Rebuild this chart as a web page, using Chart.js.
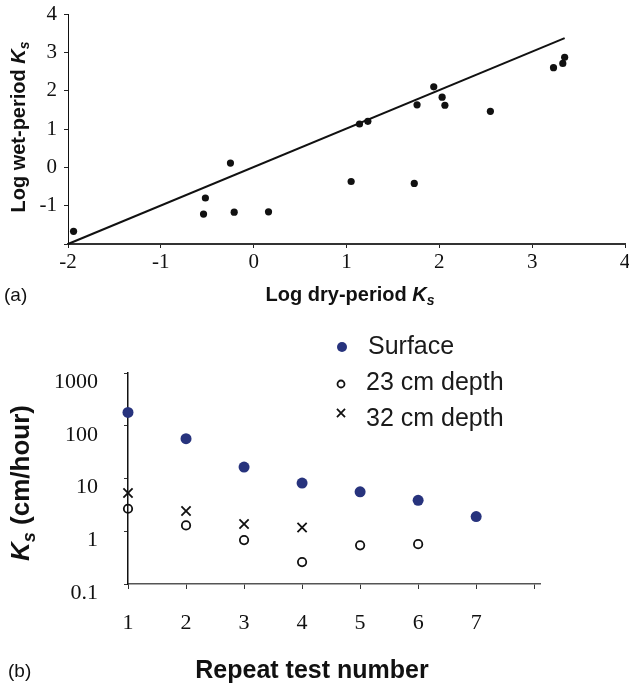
<!DOCTYPE html>
<html>
<head>
<meta charset="utf-8">
<script src="https://cdn.jsdelivr.net/npm/chart.js@4.4.1/dist/chart.umd.min.js"></script>
<style>
body{margin:0;background:#fff;width:629px;height:686px;position:relative;overflow:hidden}
canvas{position:absolute;left:0}
.tag{position:absolute;font:19px "Liberation Sans",Arial,sans-serif;color:#111;line-height:22px}
</style>
</head>
<body>
<canvas id="chartA" width="629" height="315" style="top:0"></canvas>
<canvas id="chartB" width="629" height="371" style="top:315px"></canvas>
<div class="tag" style="left:4px;top:284px">(a)</div>
<div class="tag" style="left:8px;top:660px">(b)</div>
<script>
// (a) log Ks, dry period against wet period
const dryKs = [-1.94, -0.25, -0.52, -0.54, -0.21, 0.16, 1.05, 1.14, 1.23, 1.73, 1.76, 1.94, 2.03, 2.06, 2.55, 3.23, 3.33, 3.35]
const wetKs = [-1.67, 0.11, -0.80, -1.22, -1.17, -1.16, -0.37, 1.13, 1.20, -0.42, 1.63, 2.10, 1.83, 1.62, 1.46, 2.60, 2.71, 2.87]
const fitX = [-2, 3.35]
const fitY = [-2, 3.37]
const ticksA = [-2, -1, 0, 1, 2, 3, 4]
const xLabelsA = ['-2', '-1', '0', '1', '2', '3', '4']
const yLabelsA = ['', '-1', '0', '1', '2', '3', '4']

// (b) Ks by repeat test
const testNumber = [1, 2, 3, 4, 5, 6, 7]
const surface = [179, 57, 16.5, 8.2, 5.6, 3.85, 1.9]
const depth23 = [2.67, 1.29, 0.68, 0.26, 0.54, 0.57, null]
const depth32 = [5.3, 2.42, 1.37, 1.18, null, null, null]
const seriesNames = ['Surface', '23 cm depth', '32 cm depth']
const xTicksB = [1, 2, 3, 4, 5, 6, 7, 8]
const xLabelsB = ['1', '2', '3', '4', '5', '6', '7', '']
const yTicksB = [0.1, 1, 10, 100, 1000]
const yLabelsB = ['0.1', '1', '10', '100', '1000']

const SANS = '"Liberation Sans", Arial, sans-serif'
const SERIF = '"Liberation Serif", "Times New Roman", serif'
const INK = '#111'

function points(xs, ys) {
  return xs.map((x, i) => ({x: x, y: ys[i]})).filter(p => p.y != null)
}

// title with italic K and subscript s
function drawTitle(ctx, t) {
  const fonts = t.parts.map(p => {
    if (p[1] == 'it') return 'italic bold ' + t.size + 'px ' + SANS
    if (p[1] == 'sub') return 'italic bold ' + Math.round(t.size * 0.68) + 'px ' + SANS
    return 'bold ' + t.size + 'px ' + SANS
  })
  let widths = t.parts.map((p, i) => { ctx.font = fonts[i]; return ctx.measureText(p[0]).width })
  let total = widths.reduce((a, b) => a + b, 0)
  ctx.save()
  ctx.translate(t.x, t.y)
  ctx.rotate(t.rot || 0)
  ctx.fillStyle = INK
  ctx.textBaseline = 'alphabetic'
  ctx.textAlign = 'left'
  let x = -total / 2
  const base = t.size * 0.36
  t.parts.forEach((p, i) => {
    ctx.font = fonts[i]
    ctx.fillText(p[0], x, p[1] == 'sub' ? base + t.size * 0.2 : base)
    x += widths[i]
  })
  ctx.restore()
}

function drawMarker(ctx, m, ds) {
  ctx.save()
  ctx.lineWidth = ds.pointBorderWidth
  ctx.strokeStyle = ds.pointBorderColor
  ctx.fillStyle = ds.pointBackgroundColor
  ctx.beginPath()
  if (ds.pointStyle == 'crossRot') {
    const d = m.r * Math.SQRT1_2
    ctx.moveTo(m.x - d, m.y - d); ctx.lineTo(m.x + d, m.y + d)
    ctx.moveTo(m.x - d, m.y + d); ctx.lineTo(m.x + d, m.y - d)
    ctx.stroke()
  } else {
    ctx.arc(m.x, m.y, m.r, 0, Math.PI * 2)
    ctx.fill()
    if (ds.pointBorderWidth > 0) ctx.stroke()
  }
  ctx.restore()
}

function textPlugin(titles, legend) {
  return {
    id: 'textPlugin',
    afterDraw(chart) {
      const ctx = chart.ctx
      titles.forEach(t => drawTitle(ctx, t))
      if (!legend) return
      chart.data.datasets.forEach((ds, i) => {
        const m = legend[i]
        drawMarker(ctx, m, ds)
        ctx.save()
        ctx.font = '25px ' + SANS
        ctx.fillStyle = '#1a1a1a'
        ctx.textBaseline = 'middle'
        ctx.fillText(ds.label, m.tx, m.ty)
        ctx.restore()
      })
    }
  }
}

function fixSize(size, horizontal) {
  return function(s) {
    if (horizontal) s.height = size; else s.width = size
    s.paddingLeft = 0; s.paddingRight = 0; s.paddingTop = 0; s.paddingBottom = 0
  }
}

new Chart(document.getElementById('chartA'), {
  type: 'scatter',
  data: {
    datasets: [{
      data: points(dryKs, wetKs),
      pointStyle: 'circle',
      pointRadius: 3.6,
      pointBackgroundColor: '#111',
      pointBorderColor: '#111',
      pointBorderWidth: 0,
      clip: false
    }, {
      data: points(fitX, fitY),
      showLine: true,
      pointRadius: 0,
      borderColor: '#111',
      borderWidth: 2,
      clip: false
    }]
  },
  options: {
    responsive: false,
    animation: false,
    layout: {padding: {top: 14, right: 2, left: 0, bottom: 0}},
    plugins: {legend: {display: false}, tooltip: {enabled: false}},
    scales: {
      x: {
        type: 'linear', min: -2, max: 4,
        afterBuildTicks: s => { s.ticks = ticksA.map(v => ({value: v})) },
        afterFit: fixSize(71, true),
        ticks: {callback: (v, i) => xLabelsA[i], font: {family: SERIF, size: 21}, color: INK, padding: 2, maxRotation: 0, autoSkip: false},
        grid: {drawOnChartArea: false, tickLength: 4, color: '#222'},
        border: {color: '#333', width: 2}
      },
      y: {
        type: 'linear', min: -2, max: 4,
        afterBuildTicks: s => { s.ticks = ticksA.map(v => ({value: v})) },
        afterFit: fixSize(68, false),
        ticks: {callback: (v, i) => yLabelsA[i], font: {family: SERIF, size: 21}, color: INK, padding: 7, autoSkip: false},
        grid: {drawOnChartArea: false, tickLength: 4, color: '#222'},
        border: {color: '#111', width: 1}
      }
    }
  },
  plugins: [textPlugin([
    {x: 18, y: 127, rot: -Math.PI / 2, size: 20, parts: [['Log wet-period ', 'b'], ['K', 'it'], ['s', 'sub']]},
    {x: 350, y: 294, rot: 0, size: 20, parts: [['Log dry-period ', 'b'], ['K', 'it'], ['s', 'sub']]}
  ], null)]
})

new Chart(document.getElementById('chartB'), {
  type: 'scatter',
  data: {
    datasets: [{
      label: seriesNames[0],
      data: points(testNumber, surface),
      pointStyle: 'circle',
      pointRadius: 5.5,
      pointBackgroundColor: '#27337d',
      pointBorderColor: '#27337d',
      pointBorderWidth: 0,
      clip: false
    }, {
      label: seriesNames[1],
      data: points(testNumber, depth23),
      pointStyle: 'circle',
      pointRadius: 4.2,
      pointBackgroundColor: 'rgba(255,255,255,0)',
      pointBorderColor: '#111',
      pointBorderWidth: 1.8,
      clip: false
    }, {
      label: seriesNames[2],
      data: points(testNumber, depth32),
      pointStyle: 'crossRot',
      pointRadius: 6.5,
      pointBackgroundColor: 'rgba(0,0,0,0)',
      pointBorderColor: '#111',
      pointBorderWidth: 1.8,
      clip: false
    }]
  },
  options: {
    responsive: false,
    animation: false,
    layout: {padding: {top: 58, right: 89, left: 0, bottom: 0}},
    plugins: {legend: {display: false}, tooltip: {enabled: false}},
    scales: {
      x: {
        type: 'linear', min: 1, max: 8.1,
        afterBuildTicks: s => { s.ticks = xTicksB.map(v => ({value: v})) },
        afterFit: fixSize(102, true),
        ticks: {callback: (v, i) => xLabelsB[i], font: {family: SERIF, size: 22}, color: INK, padding: 21, maxRotation: 0, autoSkip: false},
        grid: {drawOnChartArea: false, tickLength: 5, color: '#333'},
        border: {color: '#555', width: 1.5}
      },
      y: {
        type: 'logarithmic', min: 0.1, max: 1000,
        afterBuildTicks: s => { s.ticks = yTicksB.map(v => ({value: v})) },
        afterFit: fixSize(128, false),
        ticks: {callback: (v, i) => yLabelsB[i], font: {family: SERIF, size: 22}, color: INK, padding: 26, labelOffset: 9, autoSkip: false},
        grid: {drawOnChartArea: false, tickLength: 4, color: '#333'},
        border: {color: '#111', width: 1.5}
      }
    }
  },
  plugins: [textPlugin([
    {x: 20, y: 168, rot: -Math.PI / 2, size: 26, parts: [['K', 'it'], ['s', 'sub'], [' (cm/hour)', 'b']]},
    {x: 312, y: 354, rot: 0, size: 25, parts: [['Repeat test number', 'b']]}
  ], [
    {x: 342, y: 32, r: 5, tx: 368, ty: 32},
    {x: 341, y: 69, r: 3.5, tx: 366, ty: 68},
    {x: 341, y: 98, r: 5.7, tx: 366, ty: 104}
  ])]
})
</script>
</body>
</html>
